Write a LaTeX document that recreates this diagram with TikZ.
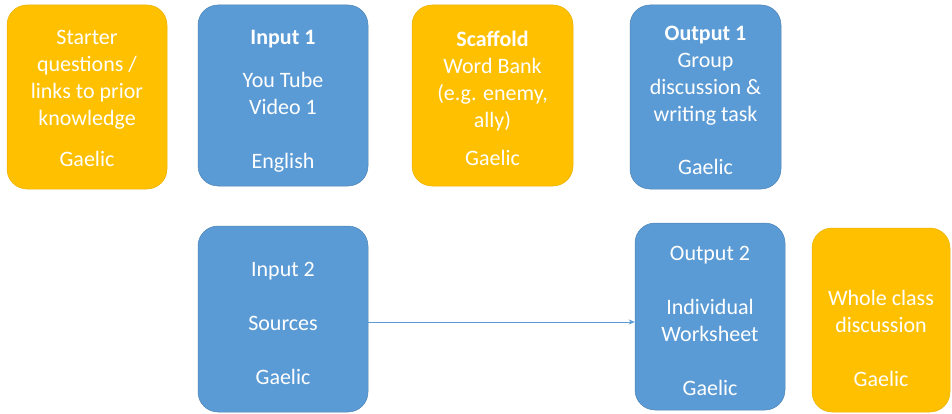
\documentclass[tikz,border=0pt]{standalone}
\usepackage{fontspec}
\setmainfont{Carlito}
\usetikzlibrary{arrows.meta}
\definecolor{lessonyellow}{HTML}{FFC000}
\definecolor{lessonblue}{HTML}{5B9BD5}
\newcommand{\toplift}[1]{\rule{0pt}{#1}}
\tikzset{
  myarr/.style = {-{Stealth[length=6pt, width=5pt]}, line width=0.6pt, draw=lessonblue},
  %% Box colour presets
  ybox/.style = {draw=lessonyellow!92!black, fill=lessonyellow, line width=0.5pt,
                 rounded corners=20pt, align=center, text=white, inner sep=4pt},
  bbox/.style = {draw=lessonblue!85!black, fill=lessonblue, line width=0.5pt,
                 rounded corners=20pt, align=center, text=white, inner sep=4pt},
}

\begin{document}
\begin{tikzpicture}[x=1pt, y=-1pt, every node/.style={font=\fontsize{22}{27}\selectfont}]

\useasboundingbox (0,0) rectangle (952,414);

%% ---- Top row ----
\node[ybox, minimum width=160pt, minimum height=184pt] (starter) at (87, 97) {
  \toplift{18pt}Starter\\
  questions /\\
  links to prior\\
  knowledge\\[14pt]
  Gaelic
};

\node[bbox, minimum width=170pt, minimum height=181pt] (input1) at (283, 95.5) {
  \toplift{25pt}\textbf{Input 1}\\[16pt]
  You Tube\\
  Video 1\\[27pt]
  English
};

\node[ybox, minimum width=161pt, minimum height=181pt] (scaffold) at (492.5, 95.5) {
  \toplift{21pt}\textbf{Scaffold}\\
  Word Bank\\
  (e.g. enemy,\\
  ally)\\[11pt]
  Gaelic
};

\node[bbox, minimum width=151pt, minimum height=184pt] (output1) at (705.5, 97) {
  \toplift{22pt}\textbf{Output 1}\\
  Group\\
  discussion \&\\
  writing task\\[26pt]
  Gaelic
};

%% ---- Bottom row ----
\node[bbox, minimum width=170pt, minimum height=186pt] (input2) at (283, 319) {
  \toplift{23pt}Input 2\\[27pt]
  Sources\\[27pt]
  Gaelic
};

\node[bbox, minimum width=150pt, minimum height=187pt] (output2) at (710, 316.5) {
  \toplift{23pt}Output 2\\[27pt]
  Individual\\
  Worksheet\\[27pt]
  Gaelic
};

\node[ybox, minimum width=138pt, minimum height=184pt] (wholeclass) at (881, 320) {
  \toplift{53pt}Whole class\\
  discussion\\[27pt]
  Gaelic
};

%% Arrow: input 2 -> output 2 (horizontal)
\draw[myarr] ([yshift=-3pt]input2.east) -- ([yshift=-3pt]input2.east -| output2.west);

\end{tikzpicture}
\end{document}
